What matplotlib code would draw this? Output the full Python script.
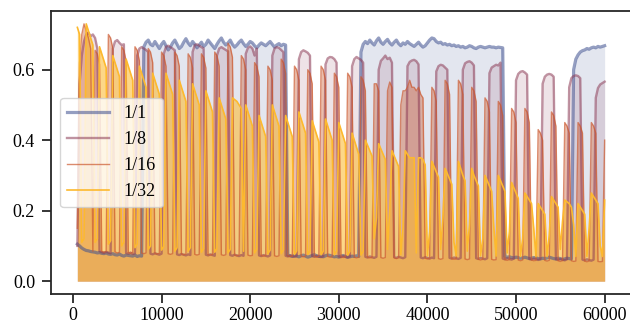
import numpy as np
import matplotlib
matplotlib.use("Agg")
from matplotlib import pyplot as plt

# evaluation steps, one every 250
steps = np.arange(500, 60001, 250)

# score of each run, one value per evaluation step
score_1 = [
    0.105, 0.100, 0.094, 0.090, 0.087, 0.086, 0.084, 0.083, 0.082, 0.080,
    0.081, 0.079, 0.078, 0.080, 0.077, 0.076, 0.078, 0.075, 0.074, 0.077,
    0.073, 0.071, 0.074, 0.073, 0.072, 0.071, 0.074, 0.070, 0.072, 0.071,
    0.665, 0.678, 0.684, 0.672, 0.668, 0.680, 0.670, 0.660, 0.672, 0.680,
    0.668, 0.656, 0.664, 0.676, 0.684, 0.672, 0.660, 0.666, 0.678, 0.688,
    0.676, 0.668, 0.680, 0.672, 0.662, 0.670, 0.678, 0.666, 0.672, 0.684,
    0.676, 0.668, 0.660, 0.672, 0.682, 0.690, 0.678, 0.670, 0.676, 0.684,
    0.672, 0.664, 0.670, 0.678, 0.684, 0.674, 0.666, 0.672, 0.680, 0.676,
    0.668, 0.662, 0.670, 0.676, 0.672, 0.668, 0.674, 0.680, 0.672, 0.664,
    0.670, 0.674, 0.668, 0.672, 0.670, 0.074, 0.072, 0.070, 0.073, 0.071,
    0.069, 0.072, 0.074, 0.071, 0.068, 0.070, 0.073, 0.075, 0.072, 0.070,
    0.071, 0.069, 0.072, 0.074, 0.073, 0.071, 0.069, 0.070, 0.068, 0.071,
    0.073, 0.070, 0.068, 0.069, 0.071, 0.070, 0.072, 0.070, 0.650, 0.672,
    0.680, 0.674, 0.684, 0.676, 0.670, 0.682, 0.690, 0.678, 0.672, 0.680,
    0.686, 0.676, 0.670, 0.678, 0.684, 0.674, 0.668, 0.676, 0.672, 0.680,
    0.674, 0.670, 0.666, 0.672, 0.678, 0.670, 0.664, 0.668, 0.676, 0.684,
    0.690, 0.688, 0.680, 0.676, 0.678, 0.672, 0.674, 0.670, 0.672, 0.668,
    0.670, 0.666, 0.668, 0.664, 0.666, 0.662, 0.664, 0.668, 0.666, 0.662,
    0.660, 0.664, 0.666, 0.664, 0.662, 0.664, 0.666, 0.664, 0.664, 0.662,
    0.664, 0.663, 0.662, 0.070, 0.068, 0.069, 0.067, 0.066, 0.068, 0.067,
    0.065, 0.066, 0.068, 0.066, 0.064, 0.065, 0.067, 0.066, 0.064, 0.063,
    0.065, 0.064, 0.066, 0.068, 0.066, 0.064, 0.063, 0.065, 0.064, 0.062,
    0.063, 0.065, 0.064, 0.063, 0.600, 0.630, 0.642, 0.650, 0.654, 0.656,
    0.660, 0.658, 0.662, 0.664, 0.662, 0.666, 0.664, 0.666, 0.668,
]

score_8 = [
    0.100, 0.560, 0.640, 0.680, 0.700, 0.705, 0.695, 0.700, 0.690, 0.660,
    0.085, 0.082, 0.080, 0.083, 0.081, 0.079, 0.660, 0.680, 0.684, 0.676,
    0.670, 0.672, 0.080, 0.078, 0.081, 0.077, 0.079, 0.640, 0.660, 0.664,
    0.660, 0.656, 0.650, 0.078, 0.076, 0.079, 0.077, 0.075, 0.078, 0.645,
    0.665, 0.668, 0.664, 0.660, 0.655, 0.076, 0.074, 0.077, 0.075, 0.073,
    0.076, 0.074, 0.650, 0.670, 0.672, 0.668, 0.664, 0.660, 0.075, 0.073,
    0.076, 0.074, 0.072, 0.640, 0.660, 0.664, 0.660, 0.656, 0.652, 0.074,
    0.072, 0.075, 0.073, 0.071, 0.074, 0.072, 0.645, 0.662, 0.666, 0.660,
    0.640, 0.660, 0.073, 0.071, 0.074, 0.072, 0.070, 0.073, 0.640, 0.660,
    0.664, 0.662, 0.656, 0.650, 0.072, 0.070, 0.073, 0.071, 0.069, 0.072,
    0.630, 0.650, 0.655, 0.652, 0.648, 0.640, 0.071, 0.069, 0.072, 0.070,
    0.068, 0.071, 0.615, 0.632, 0.636, 0.635, 0.630, 0.620, 0.070, 0.068,
    0.071, 0.069, 0.067, 0.070, 0.610, 0.630, 0.636, 0.632, 0.628, 0.620,
    0.069, 0.067, 0.070, 0.068, 0.066, 0.069, 0.600, 0.625, 0.632, 0.640,
    0.630, 0.634, 0.620, 0.068, 0.066, 0.069, 0.067, 0.065, 0.068, 0.610,
    0.622, 0.626, 0.628, 0.624, 0.615, 0.067, 0.065, 0.068, 0.066, 0.064,
    0.067, 0.065, 0.595, 0.610, 0.614, 0.612, 0.606, 0.600, 0.066, 0.064,
    0.067, 0.065, 0.063, 0.066, 0.600, 0.618, 0.622, 0.624, 0.620, 0.612,
    0.065, 0.063, 0.066, 0.064, 0.062, 0.065, 0.590, 0.606, 0.610, 0.614,
    0.612, 0.620, 0.064, 0.062, 0.065, 0.063, 0.061, 0.064, 0.570, 0.588,
    0.594, 0.596, 0.592, 0.586, 0.063, 0.061, 0.064, 0.062, 0.060, 0.063,
    0.560, 0.580, 0.586, 0.588, 0.586, 0.580, 0.062, 0.060, 0.063, 0.061,
    0.059, 0.062, 0.550, 0.576, 0.582, 0.584, 0.582, 0.576, 0.061, 0.059,
    0.062, 0.060, 0.058, 0.061, 0.520, 0.548, 0.558, 0.562, 0.566,
]

score_16 = [
    0.150, 0.620, 0.700, 0.730, 0.710, 0.690, 0.660, 0.085, 0.655, 0.645,
    0.615, 0.085, 0.082, 0.084, 0.700, 0.690, 0.660, 0.083, 0.080, 0.082,
    0.665, 0.655, 0.625, 0.081, 0.079, 0.082, 0.665, 0.655, 0.625, 0.080,
    0.078, 0.080, 0.660, 0.650, 0.620, 0.079, 0.077, 0.079, 0.650, 0.640,
    0.610, 0.078, 0.076, 0.078, 0.650, 0.640, 0.610, 0.077, 0.075, 0.077,
    0.645, 0.635, 0.605, 0.076, 0.074, 0.076, 0.645, 0.635, 0.605, 0.075,
    0.074, 0.076, 0.650, 0.640, 0.610, 0.075, 0.073, 0.075, 0.675, 0.665,
    0.635, 0.074, 0.072, 0.074, 0.640, 0.630, 0.600, 0.074, 0.072, 0.073,
    0.620, 0.610, 0.580, 0.073, 0.071, 0.073, 0.610, 0.600, 0.570, 0.072,
    0.070, 0.072, 0.630, 0.620, 0.590, 0.072, 0.070, 0.071, 0.610, 0.600,
    0.570, 0.071, 0.069, 0.071, 0.600, 0.590, 0.560, 0.070, 0.068, 0.070,
    0.610, 0.600, 0.570, 0.070, 0.068, 0.069, 0.590, 0.580, 0.550, 0.069,
    0.067, 0.069, 0.590, 0.580, 0.550, 0.068, 0.066, 0.068, 0.580, 0.570,
    0.540, 0.068, 0.066, 0.067, 0.560, 0.560, 0.540, 0.067, 0.065, 0.067,
    0.540, 0.565, 0.550, 0.066, 0.064, 0.066, 0.500, 0.540, 0.540, 0.550,
    0.570, 0.550, 0.550, 0.540, 0.550, 0.530, 0.520, 0.065, 0.063, 0.065,
    0.550, 0.540, 0.510, 0.064, 0.062, 0.064, 0.570, 0.560, 0.530, 0.064,
    0.062, 0.063, 0.570, 0.560, 0.530, 0.063, 0.061, 0.063, 0.550, 0.540,
    0.510, 0.062, 0.060, 0.062, 0.520, 0.510, 0.480, 0.062, 0.060, 0.061,
    0.510, 0.500, 0.470, 0.061, 0.059, 0.061, 0.490, 0.480, 0.450, 0.060,
    0.058, 0.060, 0.490, 0.480, 0.450, 0.060, 0.058, 0.059, 0.430, 0.420,
    0.400, 0.059, 0.057, 0.059, 0.480, 0.470, 0.440, 0.058, 0.056, 0.058,
    0.450, 0.440, 0.420, 0.058, 0.056, 0.057, 0.450, 0.440, 0.420, 0.057,
    0.055, 0.057, 0.450, 0.440, 0.420, 0.056, 0.055, 0.056, 0.400,
]

score_32 = [
    0.720, 0.700, 0.110, 0.120, 0.730, 0.710, 0.690, 0.670, 0.110, 0.120,
    0.665, 0.645, 0.625, 0.605, 0.105, 0.115, 0.640, 0.620, 0.600, 0.580,
    0.100, 0.110, 0.630, 0.610, 0.590, 0.570, 0.095, 0.105, 0.610, 0.590,
    0.570, 0.550, 0.090, 0.100, 0.590, 0.570, 0.550, 0.530, 0.088, 0.098,
    0.590, 0.570, 0.550, 0.530, 0.085, 0.095, 0.570, 0.550, 0.530, 0.510,
    0.085, 0.095, 0.560, 0.540, 0.520, 0.500, 0.082, 0.092, 0.540, 0.520,
    0.500, 0.480, 0.082, 0.092, 0.520, 0.500, 0.480, 0.460, 0.080, 0.090,
    0.520, 0.515, 0.510, 0.500, 0.490, 0.085, 0.500, 0.480, 0.460, 0.440,
    0.080, 0.090, 0.470, 0.450, 0.430, 0.410, 0.078, 0.088, 0.500, 0.480,
    0.460, 0.440, 0.078, 0.088, 0.470, 0.450, 0.430, 0.410, 0.076, 0.086,
    0.480, 0.460, 0.440, 0.420, 0.076, 0.086, 0.455, 0.435, 0.415, 0.395,
    0.075, 0.085, 0.460, 0.440, 0.420, 0.400, 0.075, 0.085, 0.450, 0.430,
    0.410, 0.390, 0.074, 0.084, 0.420, 0.400, 0.380, 0.360, 0.074, 0.084,
    0.400, 0.385, 0.370, 0.355, 0.120, 0.180, 0.390, 0.375, 0.360, 0.345,
    0.090, 0.200, 0.370, 0.355, 0.340, 0.325, 0.075, 0.150, 0.370, 0.360,
    0.350, 0.350, 0.350, 0.080, 0.350, 0.350, 0.345, 0.330, 0.072, 0.140,
    0.340, 0.325, 0.310, 0.295, 0.090, 0.180, 0.320, 0.305, 0.290, 0.275,
    0.110, 0.072, 0.340, 0.320, 0.300, 0.285, 0.085, 0.160, 0.320, 0.300,
    0.285, 0.270, 0.072, 0.120, 0.300, 0.285, 0.270, 0.255, 0.150, 0.071,
    0.300, 0.285, 0.270, 0.255, 0.080, 0.140, 0.280, 0.265, 0.250, 0.235,
    0.070, 0.120, 0.250, 0.240, 0.230, 0.220, 0.150, 0.070, 0.220, 0.210,
    0.200, 0.190, 0.070, 0.130, 0.240, 0.230, 0.220, 0.210, 0.090, 0.170,
    0.230, 0.225, 0.220, 0.210, 0.160, 0.070, 0.220, 0.210, 0.200, 0.190,
    0.070, 0.150, 0.250, 0.240, 0.230, 0.220, 0.100, 0.070, 0.230,
]

labels = ["1/1", "1/8", "1/16", "1/32"]
series = [score_1, score_8, score_16, score_32]

# line colour, line width, line alpha, fill alpha
styles = [
    ("#3d4f8f", 2.3, 0.55, 0.14),
    ("#8c3a55", 1.7, 0.55, 0.14),
    ("#cc5a30", 1.0, 0.7, 0.40),
    ("#fdb92e", 1.2, 1.0, 0.57),
]

plt.rcParams["font.family"] = "serif"
plt.rcParams["font.serif"] = ["Liberation Serif", "DejaVu Serif"]
plt.rcParams["font.size"] = 13
plt.rcParams["axes.edgecolor"] = "#262626"
plt.rcParams["axes.linewidth"] = 1.3

fig = plt.figure(figsize=(6.3, 3.25), dpi=100)
ax = fig.add_axes([51 / 630, 31 / 325, 580 / 630, 283 / 325])

for lab, ys, (col, lw, la, fa) in zip(labels, series, styles):
    ax.plot(steps, ys, color=col, lw=lw, alpha=la, label=lab)
    ax.fill_between(steps, ys, 0, color=col, alpha=fa, lw=0)

ax.set_yticks([0.0, 0.2, 0.4, 0.6])
ax.set_xticks([0, 10000, 20000, 30000, 40000, 50000, 60000])
ax.tick_params(direction="out", length=6.5, width=1.3, color="#262626",
               labelsize=13)
ax.tick_params(axis="y", pad=5)
ax.tick_params(axis="x", pad=3)

leg = ax.legend(loc="center left", fontsize=13, handlelength=2.3,
                fancybox=True, framealpha=0.8, edgecolor="#cccccc")

fig.savefig("out.png", dpi=100)
